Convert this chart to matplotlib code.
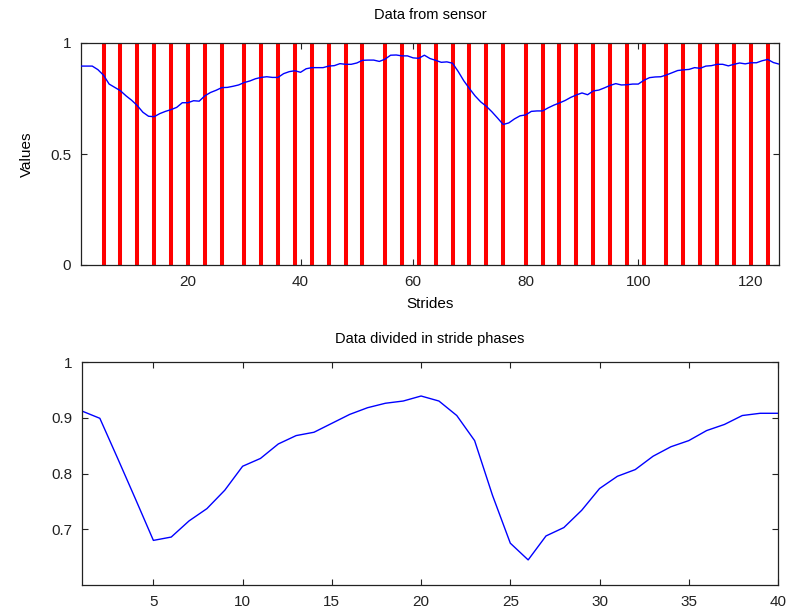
import matplotlib
matplotlib.use("Agg")
import matplotlib.pyplot as plt
import numpy as np

plt.rcParams['font.family'] = ['Liberation Sans', 'DejaVu Sans']

# sensor signal, one value per stride sample (1..125)
sensor_vals = [
    0.896, 0.896, 0.896, 0.880, 0.855, 0.815, 0.800, 0.785, 0.762, 0.742,
    0.718, 0.688, 0.670, 0.668, 0.682, 0.692, 0.700, 0.710, 0.731, 0.731,
    0.740, 0.738, 0.762, 0.777, 0.787, 0.799, 0.800, 0.805, 0.811, 0.822,
    0.829, 0.839, 0.845, 0.848, 0.845, 0.845, 0.862, 0.871, 0.875, 0.868,
    0.884, 0.889, 0.889, 0.889, 0.896, 0.898, 0.907, 0.904, 0.904, 0.910,
    0.922, 0.923, 0.923, 0.917, 0.927, 0.945, 0.946, 0.942, 0.942, 0.933,
    0.931, 0.945, 0.930, 0.922, 0.913, 0.915, 0.909, 0.872, 0.830, 0.795,
    0.762, 0.735, 0.715, 0.690, 0.662, 0.633, 0.640, 0.658, 0.672, 0.676,
    0.692, 0.694, 0.694, 0.708, 0.720, 0.730, 0.741, 0.755, 0.766, 0.775,
    0.767, 0.784, 0.788, 0.798, 0.809, 0.817, 0.811, 0.812, 0.815, 0.815,
    0.832, 0.844, 0.847, 0.848, 0.856, 0.866, 0.876, 0.879, 0.881, 0.889,
    0.886, 0.896, 0.898, 0.904, 0.904, 0.897, 0.904, 0.910, 0.906, 0.911,
    0.911, 0.920, 0.926, 0.912, 0.905,
]
sensor_x = np.arange(1, len(sensor_vals) + 1)

# stride boundaries (red markers)
stride_marks = [5, 8, 11, 14, 17, 20, 23, 26, 30, 33, 36, 39, 42, 45, 48, 51,
                55, 58, 61, 64, 67, 70, 73, 76, 80, 83, 86, 89, 92, 95, 98,
                101, 105, 108, 111, 114, 117, 120, 123]

# one stride divided in phases
phase_vals = [
    0.912, 0.899, 0.827, 0.754, 0.680, 0.686, 0.715, 0.737, 0.770, 0.813,
    0.827, 0.853, 0.868, 0.874, 0.890, 0.906, 0.918, 0.926, 0.930, 0.939,
    0.930, 0.904, 0.859, 0.761, 0.675, 0.645, 0.688, 0.703, 0.734, 0.773,
    0.795, 0.807, 0.831, 0.848, 0.859, 0.877, 0.888, 0.904, 0.908, 0.908,
]
phase_x = np.arange(1, len(phase_vals) + 1)

fig = plt.figure(figsize=(7.89, 6.15), dpi=100)
ax1 = fig.add_axes([81 / 789, 1 - 265 / 615, 698 / 789, 222 / 615])
ax2 = fig.add_axes([82 / 789, 1 - 585 / 615, 696 / 789, 223 / 615])

ax1.vlines(stride_marks, 0, 1, colors='red', linewidth=2.9, zorder=2)
ax1.plot(sensor_x, sensor_vals, color='blue', linewidth=1.0, zorder=3)
ax1.set_xlim(1, 125)
ax1.set_ylim(0, 1)
ax1.set_xticks([20, 40, 60, 80, 100, 120])
ax1.set_yticks([0, 0.5, 1])
ax1.set_yticklabels(['0', '0.5', '1'])
ax1.set_title('Data from sensor', fontsize=10.5, pad=17)
ax1.set_xlabel('Strides', fontsize=11, labelpad=6)
ax1.set_ylabel('Values', fontsize=11, labelpad=12)

ax2.plot(phase_x, phase_vals, color='blue', linewidth=1.0)
ax2.set_xlim(1, 40)
ax2.set_ylim(0.6, 1)
ax2.set_xticks([5, 10, 15, 20, 25, 30, 35, 40])
ax2.set_yticks([0.7, 0.8, 0.9, 1])
ax2.set_yticklabels(['0.7', '0.8', '0.9', '1'])
ax2.set_title('Data divided in stride phases', fontsize=10.5, pad=14)

for ax in (ax1, ax2):
    ax.tick_params(direction='in', top=True, right=True, length=4,
                   width=0.8, labelsize=11, colors='#222222', pad=7)
    for s in ax.spines.values():
        s.set_color('#222222')
        s.set_linewidth(0.9)

fig.savefig('out.png', dpi=100)
